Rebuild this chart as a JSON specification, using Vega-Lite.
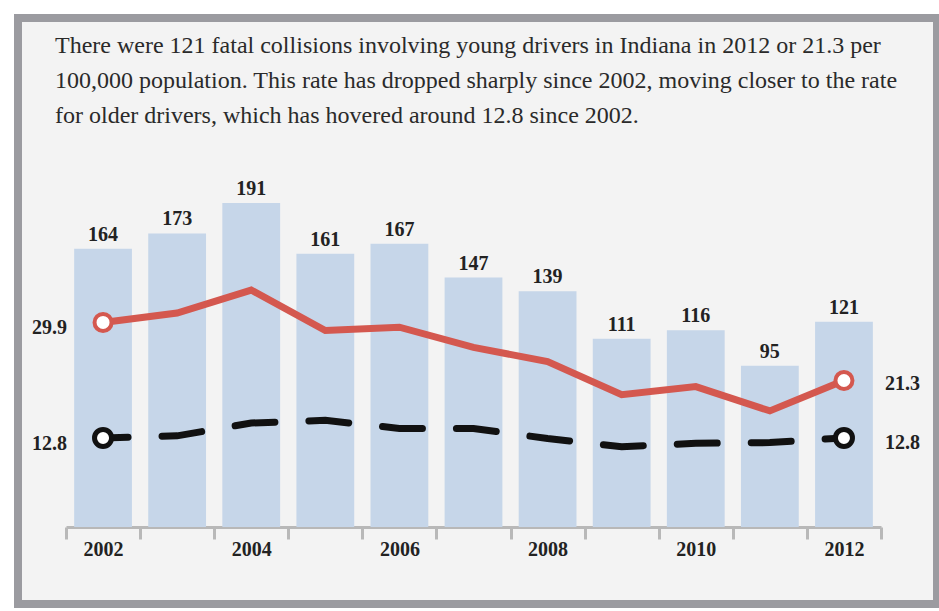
{
  "$schema": "https://vega.github.io/schema/vega-lite/v6.json",
  "width": 919,
  "height": 586,
  "autosize": "none",
  "padding": {"left": 18, "top": 18, "right": 2, "bottom": 7},
  "background": "white",
  "title": {
    "text": [
      "There were 121 fatal collisions involving young drivers in Indiana in 2012 or 21.3 per",
      "100,000 population. This rate has dropped sharply since 2002, moving closer to the rate",
      "for older drivers, which has hovered around 12.8 since 2002."
    ],
    "anchor": "start",
    "frame": "group",
    "orient": "top",
    "offset": 0,
    "dx": 37,
    "dy": 129,
    "font": "Liberation Serif",
    "fontSize": 24,
    "fontWeight": "normal",
    "color": "#2a2a2a",
    "lineHeight": 35,
    "baseline": "alphabetic"
  },
  "config": {
    "view": {"fill": "#f3f3f3", "stroke": "#9b9ba0", "strokeWidth": 8},
    "title": {"font": "Liberation Serif", "fontSize": 24, "fontWeight": "normal", "color": "#2a2a2a"}
  },
  "data": {
    "values": [
      {"year": 2002, "count": 164, "young": 29.9, "older": 12.8},
      {"year": 2003, "count": 173, "young": 31.3, "older": 13.1},
      {"year": 2004, "count": 191, "young": 34.7, "older": 15.0},
      {"year": 2005, "count": 161, "young": 28.7, "older": 15.4},
      {"year": 2006, "count": 167, "young": 29.2, "older": 14.2},
      {"year": 2007, "count": 147, "young": 26.2, "older": 14.2},
      {"year": 2008, "count": 139, "young": 24.1, "older": 12.7},
      {"year": 2009, "count": 111, "young": 19.2, "older": 11.5},
      {"year": 2010, "count": 116, "young": 20.4, "older": 12.0},
      {"year": 2011, "count": 95, "young": 16.8, "older": 12.1},
      {"year": 2012, "count": 121, "young": 21.3, "older": 12.8}
    ]
  },
  "encoding": {
    "x": {
      "field": "year",
      "type": "ordinal",
      "scale": {"range": [48, 863], "paddingInner": 0, "paddingOuter": 0},
      "axis": {
        "title": null,
        "orient": "bottom",
        "offset": -77,
        "tickBand": "extent",
        "tickSize": 12,
        "tickWidth": 3,
        "tickColor": "#b8b8b8",
        "domainColor": "#b8b8b8",
        "domainWidth": 3,
        "labelFont": "Liberation Serif",
        "labelFontSize": 20,
        "labelFontWeight": "bold",
        "labelColor": "#222222",
        "labelPadding": 0,
        "labelAngle": 0,
        "grid": false,
        "labelExpr": "datum.value % 2 == 0 ? datum.label : ''"
      }
    }
  },
  "layer": [
    {
      "encoding": {
        "y": {"field": "count", "type": "quantitative", "scale": {"domain": [0, 300], "range": [509, 0]}, "axis": null}
      },
      "layer": [
        {"mark": {"type": "bar", "color": "#c6d6e9", "width": {"band": 0.78}}},
        {
          "mark": {"type": "text", "font": "Liberation Serif", "fontSize": 20, "fontWeight": "bold", "color": "#222222", "baseline": "alphabetic", "dy": -8},
          "encoding": {"text": {"field": "count", "type": "quantitative"}}
        }
      ]
    },
    {
      "layer": [
        {
          "mark": {"type": "line", "color": "#d4584f", "strokeWidth": 7, "strokeJoin": "miter"},
          "encoding": {"y": {"field": "young", "type": "quantitative", "scale": {"domain": [-0.4, 75], "range": [509, 0]}, "axis": null}}
        },
        {
          "mark": {"type": "line", "color": "#111111", "strokeWidth": 7, "strokeCap": "round", "strokeDash": [40, 34], "strokeDashOffset": 15},
          "encoding": {"y": {"field": "older", "type": "quantitative", "scale": {"domain": [-0.4, 75], "range": [509, 0]}, "axis": null}}
        },
        {
          "transform": [{"filter": "datum.year == 2002 || datum.year == 2012"}],
          "mark": {"type": "point", "shape": "circle", "filled": true, "fill": "white", "stroke": "#d4584f", "strokeWidth": 4, "size": 290, "opacity": 1},
          "encoding": {"y": {"field": "young", "type": "quantitative", "scale": {"domain": [-0.4, 75], "range": [509, 0]}, "axis": null}}
        },
        {
          "transform": [{"filter": "datum.year == 2002 || datum.year == 2012"}],
          "mark": {"type": "point", "shape": "circle", "filled": true, "fill": "white", "stroke": "#111111", "strokeWidth": 5, "size": 290, "opacity": 1},
          "encoding": {"y": {"field": "older", "type": "quantitative", "scale": {"domain": [-0.4, 75], "range": [509, 0]}, "axis": null}}
        },
        {
          "transform": [{"filter": "datum.year == 2002"}],
          "mark": {"type": "text", "font": "Liberation Serif", "fontSize": 20, "fontWeight": "bold", "color": "#222222", "align": "right", "baseline": "middle", "dx": -36, "dy": 6},
          "encoding": {
            "y": {"field": "young", "type": "quantitative", "scale": {"domain": [-0.4, 75], "range": [509, 0]}, "axis": null},
            "text": {"field": "young", "type": "quantitative", "format": ".1f"}
          }
        },
        {
          "transform": [{"filter": "datum.year == 2002"}],
          "mark": {"type": "text", "font": "Liberation Serif", "fontSize": 20, "fontWeight": "bold", "color": "#222222", "align": "right", "baseline": "middle", "dx": -36, "dy": 6},
          "encoding": {
            "y": {"field": "older", "type": "quantitative", "scale": {"domain": [-0.4, 75], "range": [509, 0]}, "axis": null},
            "text": {"field": "older", "type": "quantitative", "format": ".1f"}
          }
        },
        {
          "transform": [{"filter": "datum.year == 2012"}],
          "mark": {"type": "text", "font": "Liberation Serif", "fontSize": 20, "fontWeight": "bold", "color": "#222222", "align": "left", "baseline": "middle", "dx": 41, "dy": 3},
          "encoding": {
            "y": {"field": "young", "type": "quantitative", "scale": {"domain": [-0.4, 75], "range": [509, 0]}, "axis": null},
            "text": {"field": "young", "type": "quantitative", "format": ".1f"}
          }
        },
        {
          "transform": [{"filter": "datum.year == 2012"}],
          "mark": {"type": "text", "font": "Liberation Serif", "fontSize": 20, "fontWeight": "bold", "color": "#222222", "align": "left", "baseline": "middle", "dx": 41, "dy": 5},
          "encoding": {
            "y": {"field": "older", "type": "quantitative", "scale": {"domain": [-0.4, 75], "range": [509, 0]}, "axis": null},
            "text": {"field": "older", "type": "quantitative", "format": ".1f"}
          }
        }
      ]
    }
  ],
  "resolve": {"scale": {"y": "independent"}}
}
